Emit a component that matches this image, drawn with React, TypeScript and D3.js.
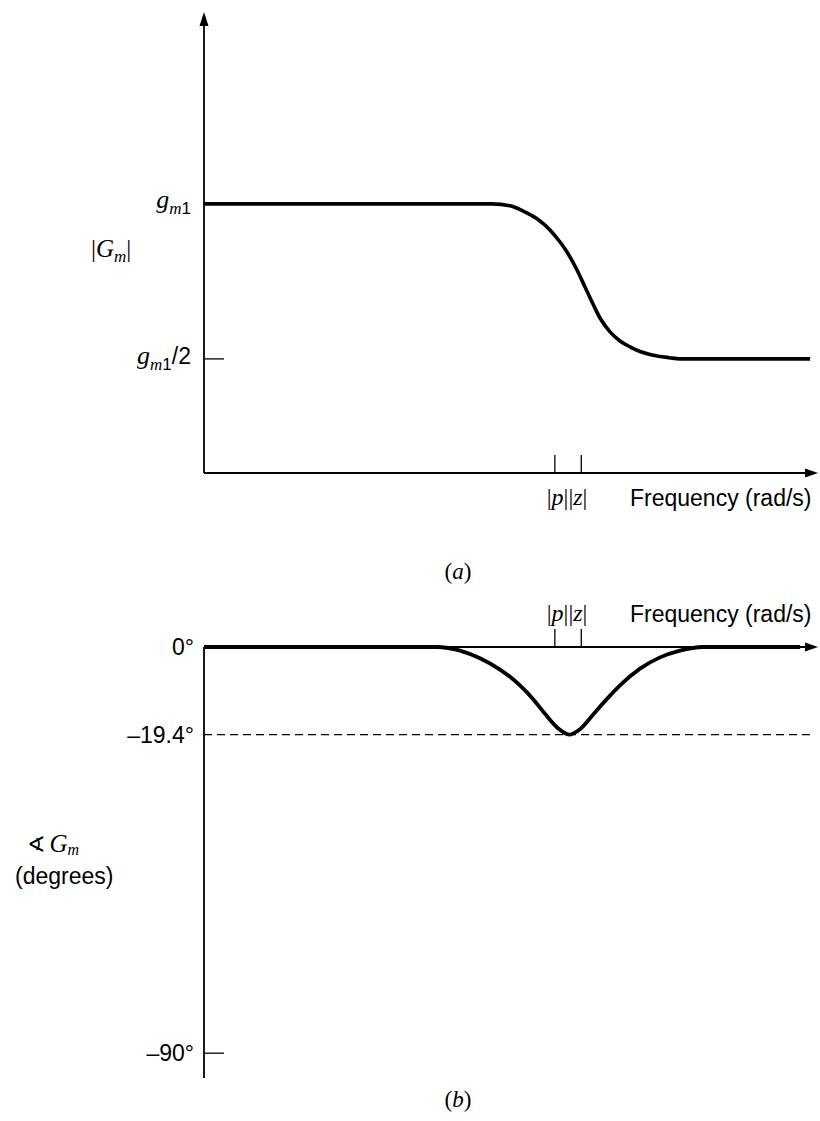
import React from "react";
import * as d3 from "d3";

const W = 820;
const H = 1121;

// Frequency axis (rad/s, log) – pole |p| and zero |z| marks
const freqDomain = [1e-4, 1e3];
const markFreq = [1, 2];

// Magnitude |Gm| (in units of gm1)
const magFreq = [1e-4, 0.192, 0.308, 0.434, 0.626, 0.88, 1.145, 1.375, 1.788, 2.207, 2.722, 3.271, 4.254, 5.531, 7.19, 9.35, 12.81, 20.2, 26.7, 813];
const magValue = [1, 1, 0.994, 0.977, 0.952, 0.916, 0.877, 0.845, 0.787, 0.732, 0.677, 0.632, 0.587, 0.558, 0.539, 0.524, 0.513, 0.504, 0.5, 0.5];
const magDomain = [0.132, 1.619];
const magTickValues = [1, 0.5];

// Phase of Gm (degrees)
const phaseFreq = [1e-4, 0.0453, 0.0829, 0.14, 0.237, 0.308, 0.4, 0.563, 0.772, 1.086, 1.449, 1.935, 2.722, 3.93, 5.531, 9.35, 15.8, 26.7, 48.9, 625];
const phaseDeg = [0, 0, -0.8, -2.5, -5, -6.6, -8.5, -11.5, -14.8, -18.0, -19.4, -18.2, -15, -11.5, -8.5, -4.8, -2.3, -0.8, 0, 0];
const phaseDomain = [0, -95.5];
const phaseTickValues = [0, -19.4, -90];
const phaseTickLabels = ["0°", "–19.4°", "–90°"];
const phaseMin = -19.4;

const SANS = "'Liberation Sans', Arial, Helvetica, sans-serif";
const SERIF = "'Liberation Serif', 'Times New Roman', serif";

export default function App() {
  const x = d3.scaleLog().domain(freqDomain).range([204, 818]);
  const yMag = d3.scaleLinear().domain(magDomain).range([473, 12]);
  const yPh = d3.scaleLinear().domain(phaseDomain).range([647, 1078]);

  const x0 = x(freqDomain[0]);
  const x1 = x(freqDomain[1]);

  const magLine = d3
    .line<number>()
    .x((_, i) => x(magFreq[i]))
    .y((d) => yMag(d))
    .curve(d3.curveMonotoneX)(magValue) as string;

  const phLine = d3
    .line<number>()
    .x((_, i) => x(phaseFreq[i]))
    .y((d) => yPh(d))
    .curve(d3.curveMonotoneX)(phaseDeg) as string;

  const magAxisY = yMag(magDomain[0]);
  const magTopY = yMag(magDomain[1]);
  const phAxisY = yPh(0);
  const phBottomY = yPh(phaseDomain[1]);

  const arrowRight = (ax: number, ay: number) =>
    `M${ax},${ay} L${ax - 13},${ay - 4.5} L${ax - 13},${ay + 4.5} Z`;
  const arrowUp = (ax: number, ay: number) =>
    `M${ax},${ay} L${ax - 4.5},${ay + 14} L${ax + 4.5},${ay + 14} Z`;

  const pzLabel = (cx: number, by: number) => (
    <text x={cx} y={by} fontFamily={SERIF} fontSize={24} textAnchor="middle">
      |<tspan fontStyle="italic">p</tspan>||<tspan fontStyle="italic">z</tspan>|
    </text>
  );

  const gm = (suffix: string | null) => (
    <>
      <tspan fontFamily={SERIF} fontStyle="italic" fontSize={26}>g</tspan>
      <tspan fontFamily={SERIF} fontStyle="italic" fontSize={17} dy={6}>m</tspan>
      <tspan fontFamily={SANS} fontSize={17}>1</tspan>
      {suffix ? (
        <tspan fontFamily={SANS} fontSize={23} dy={-6}>{suffix}</tspan>
      ) : null}
    </>
  );

  const pzCenter = x(Math.sqrt(markFreq[0] * markFreq[1])) - 1;

  return (
    <svg
      width={W}
      height={H}
      viewBox={`0 0 ${W} ${H}`}
      style={{ position: "absolute", left: 0, top: 0, background: "#fff" }}
    >
      <rect x={0} y={0} width={W} height={H} fill="#fff" />

      {/* ===== Panel (a): magnitude ===== */}
      <g>
        <line x1={x0} y1={magAxisY} x2={x0} y2={magTopY + 10} stroke="#000" strokeWidth={1.8} />
        <path d={arrowUp(x0, magTopY)} fill="#000" />
        <line x1={x0} y1={magAxisY} x2={x1 - 10} y2={magAxisY} stroke="#000" strokeWidth={1.8} />
        <path d={arrowRight(x1, magAxisY)} fill="#000" />

        {/* gm1/2 tick */}
        <line x1={x0} x2={x0 + 20} y1={yMag(magTickValues[1])} y2={yMag(magTickValues[1])} stroke="#000" strokeWidth={1.3} />

        {/* p, z marks */}
        {markFreq.map((f, i) => (
          <line key={i} x1={x(f)} x2={x(f)} y1={magAxisY} y2={magAxisY - 18} stroke="#000" strokeWidth={1.3} />
        ))}

        <path d={magLine} fill="none" stroke="#000" strokeWidth={3.6} strokeLinejoin="round" />

        {/* y labels */}
        <text x={191} y={yMag(magTickValues[0]) + 4} textAnchor="end">
          {gm(null)}
        </text>
        <text x={191} y={yMag(magTickValues[1]) + 5} textAnchor="end">
          {gm("/2")}
        </text>
        <text x={91} y={257} fontFamily={SERIF} fontSize={25}>
          |<tspan fontStyle="italic">G</tspan>
          <tspan fontStyle="italic" fontSize={17} dy={5}>m</tspan>
          <tspan dy={-5}>|</tspan>
        </text>

        {pzLabel(pzCenter, 505)}
        <text x={630} y={506} fontFamily={SANS} fontSize={23}>
          Frequency (rad/s)
        </text>

        <text x={458} y={579} fontFamily={SERIF} fontSize={23} textAnchor="middle">
          (<tspan fontStyle="italic">a</tspan>)
        </text>
      </g>

      {/* ===== Panel (b): phase ===== */}
      <g>
        <line x1={x0} y1={phAxisY} x2={x0} y2={phBottomY} stroke="#000" strokeWidth={1.8} />
        <line x1={x0} y1={phAxisY} x2={x1 - 10} y2={phAxisY} stroke="#000" strokeWidth={1.8} />
        <path d={arrowRight(x1, phAxisY)} fill="#000" />

        {/* -90 tick */}
        <line x1={x0} x2={x0 + 20} y1={yPh(phaseTickValues[2])} y2={yPh(phaseTickValues[2])} stroke="#000" strokeWidth={1.3} />

        {/* -19.4 dashed line */}
        <line
          x1={x0}
          x2={x(magFreq[magFreq.length - 1])}
          y1={yPh(phaseMin)}
          y2={yPh(phaseMin)}
          stroke="#000"
          strokeWidth={1.3}
          strokeDasharray="8,5"
        />

        {markFreq.map((f, i) => (
          <line key={i} x1={x(f)} x2={x(f)} y1={phAxisY} y2={phAxisY - 18} stroke="#000" strokeWidth={1.3} />
        ))}

        <path d={phLine} fill="none" stroke="#000" strokeWidth={3.8} strokeLinejoin="round" />

        {phaseTickValues.map((v, i) => (
          <text
            key={i}
            x={194}
            y={yPh(v) + 8}
            fontFamily={SANS}
            fontSize={23}
            textAnchor="end"
          >
            {phaseTickLabels[i]}
          </text>
        ))}

        <text x={27} y={852} fontSize={25}>
          <tspan fontFamily="'DejaVu Sans', sans-serif" fontSize={22}>∢</tspan>
          <tspan fontFamily={SERIF} fontStyle="italic" dx={4}>G</tspan>
          <tspan fontFamily={SERIF} fontStyle="italic" fontSize={16} dy={3}>m</tspan>
        </text>
        <text x={15} y={884} fontFamily={SANS} fontSize={23}>
          (degrees)
        </text>

        {pzLabel(pzCenter, 621)}
        <text x={630} y={622} fontFamily={SANS} fontSize={23}>
          Frequency (rad/s)
        </text>

        <text x={458} y={1107} fontFamily={SERIF} fontSize={23} textAnchor="middle">
          (<tspan fontStyle="italic">b</tspan>)
        </text>
      </g>
    </svg>
  );
}
